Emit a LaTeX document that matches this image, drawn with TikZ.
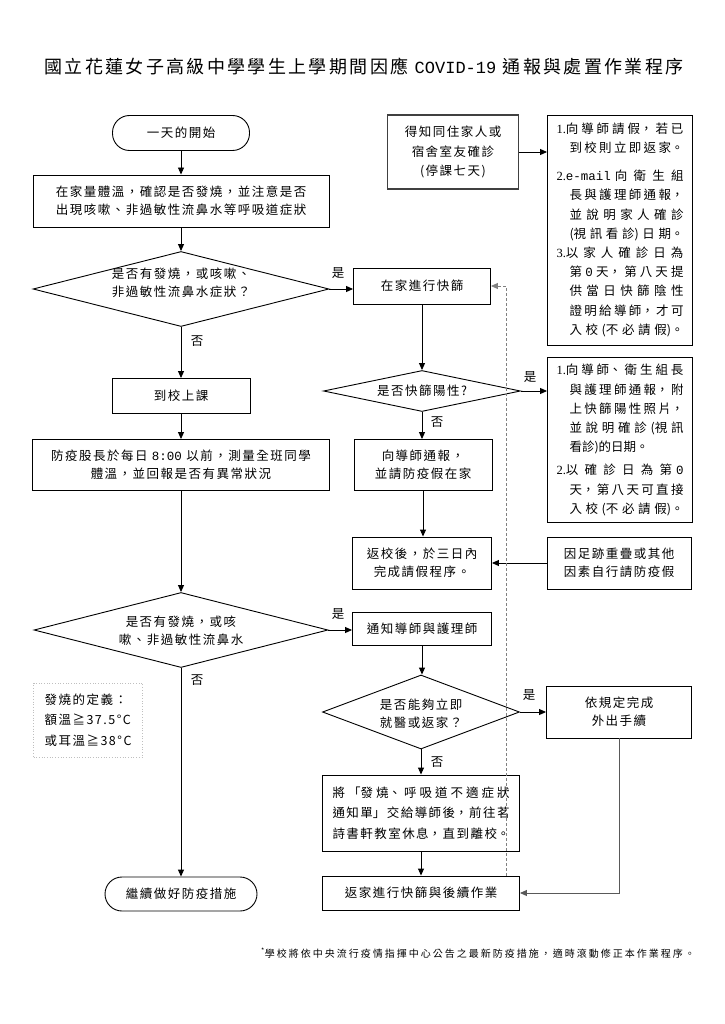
\documentclass[tikz,border=0pt]{standalone}
\usepackage{fontspec}
\usetikzlibrary{arrows.meta,shapes.geometric}
\newfontfamily\cjk{Noto Sans CJK TC}[LetterSpace=12]
\newfontfamily\cjkj{Noto Sans CJK TC}
\newfontfamily\cjkt{Noto Sans CJK TC}[LetterSpace=13]
\newfontfamily\cjkf{Noto Sans CJK TC}[LetterSpace=20]
\newfontfamily\monof{Liberation Mono}
\newfontfamily\serf{Liberation Serif}
\newcommand\jsetup{\XeTeXlinebreaklocale "zh"\XeTeXlinebreakskip=0pt plus 8pt\relax\tolerance=10000\relax\parfillskip=0pt\relax\hbadness=10000\relax}
\newcommand\itm[1]{\hangindent=13pt\hangafter=1\relax{\serf #1}}
\begin{document}
\begin{tikzpicture}[x=1pt,y=-1pt,
 every node/.style={font=\cjk\fontsize{12.5}{18}\selectfont},
 bx/.style={draw,line width=0.9pt,inner sep=0pt,align=center},
 tm/.style={bx,rounded corners=17pt},
 dia/.style={draw,diamond,line width=0.9pt,inner sep=0pt},
 arr/.style={line width=0.9pt,-{Triangle[length=7pt,width=6pt]}},
 lab/.style={inner sep=0pt},
 jbox/.style={draw,line width=0.9pt,align=justify,inner xsep=9pt,inner ysep=0pt,text width=127pt,font=\cjkj\fontsize{12.5}{19.2}\selectfont,execute at begin node=\jsetup}]
\useasboundingbox[fill=white] (0,0) rectangle (724,1024);

\node[lab] (title) at (364,67) {\cjkt\fontsize{18}{22}\selectfont 國立花蓮女子高級中學學生上學期間因應 {\monof\fontsize{17}{22}\selectfont COVID-19} 通報與處置作業程序};

\node[tm,minimum width=137pt,minimum height=35pt] (start) at (181,133) {一天的開始};
\node[bx,minimum width=296pt,minimum height=52pt] (b1) at (181,201) {在家量體溫，確認是否發燒，並注意是否\\出現咳嗽、非過敏性流鼻水等呼吸道症狀};
\node[dia,minimum width=296pt,minimum height=75pt] (d1) at (181,289) {};
\node[lab,align=center] (d1t) at (181,283) {是否有發燒，或咳嗽、\\非過敏性流鼻水症狀？};
\node[bx,minimum width=137pt,minimum height=36pt] (rapid) at (422,286) {在家進行快篩};
\node[bx,minimum width=138pt,minimum height=35pt] (school) at (181,396) {到校上課};
\node[bx,minimum width=297pt,minimum height=51pt] (monitor) at (181,465) {防疫股長於每日 {\monof 8:00} 以前，測量全班同學\\體溫，並回報是否有異常狀況};
\node[dia,minimum width=197pt,minimum height=41pt] (dpos) at (422,391) {};
\node[lab] (dpost) at (422,391) {是否快篩陽性?};
\node[bx,minimum width=138pt,minimum height=51pt] (notify) at (423,465) {向導師通報，\\並請防疫假在家};
\node[bx,draw=black!75,line width=1.3pt,minimum width=131pt,minimum height=74pt,font=\cjk\fontsize{12.5}{19.5}\selectfont] (know) at (453,152) {得知同住家人或\\宿舍室友確診\\(停課七天)};

\node[jbox,minimum height=230pt] (fam) at (620,230) {\itm{1.}向導師請假，若已\linebreak 到校則立即返家。\par\vskip 8.5pt
\itm{2.}{\monof e-mail} 向衛生組\linebreak 長與護理師通報，\linebreak 並說明家人確診\linebreak (視訊看診)日期。\par
\itm{3.}以家人確診日為\linebreak 第 {\monof 0} 天，第八天提\linebreak 供當日快篩陰性\linebreak 證明給導師，才可\linebreak 入校(不必請假)。\par};

\node[jbox,minimum height=165pt] (pos) at (620,440) {\itm{1.}向導師、衛生組長\linebreak 與護理師通報，附\linebreak 上快篩陽性照片，\linebreak 並說明確診(視訊\linebreak 看診)的日期。\hfill\mbox{}\par\vskip 4pt
\itm{2.}以確診日為第 {\monof 0}\linebreak 天，第八天可直接\linebreak 入校(不必請假)。\par};

\node[bx,minimum width=139pt,minimum height=52pt] (back) at (422,563) {返校後，於三日內\\完成請假程序。};
\node[bx,minimum width=144pt,minimum height=52pt] (self) at (619,563) {因足跡重疊或其他\\因素自行請防疫假};

\node[dia,minimum width=294pt,minimum height=75pt] (d2) at (181,630) {};
\node[lab,align=center] (d2t) at (181,631) {是否有發燒，或咳\\嗽、非過敏性流鼻水};
\node[bx,minimum width=139pt,minimum height=33pt] (tell) at (422,629) {通知導師與護理師};
\node[dia,minimum width=197pt,minimum height=74pt] (d3) at (421,712) {};
\node[lab,align=center] (d3t) at (421,714) {是否能夠立即\\就醫或返家？};
\node[bx,minimum width=145pt,minimum height=52pt] (rule) at (619,712) {依規定完成\\外出手續};
\node[jbox,text width=177pt,inner xsep=10pt,minimum height=76pt,font=\cjkj\fontsize{12.5}{20.5}\selectfont] (sheet) at (421,813) {將「發燒、呼吸道不適症狀\linebreak 通知單」交給導師後，前往茗\linebreak 詩書軒教室休息，直到離校。\par};
\node[bx,minimum width=197pt,minimum height=34pt] (ret) at (421,893) {返家進行快篩與後續作業};
\node[tm,minimum width=152pt,minimum height=34pt] (cont) at (181,894) {繼續做好防疫措施};
\node[draw=gray!50,dotted,line width=0.7pt,inner sep=0pt,minimum width=109pt,minimum height=74pt,align=left,font=\cjk\fontsize{12.5}{20.5}\selectfont] (defn) at (88,720) {發燒的定義：\\額溫≧37.5°C\\或耳溫≧38°C};

\node[lab] (y1) at (338,273) {是};
\node[lab] (n1) at (197,341) {否};
\node[lab] (y2) at (530,377) {是};
\node[lab] (n2) at (437,422) {否};
\node[lab] (y3) at (338,614) {是};
\node[lab] (n3) at (197,680) {否};
\node[lab] (y4) at (529,695) {是};
\node[lab] (n4) at (437,762) {否};

\draw[arr] (start.south) -- (b1.north);
\draw[arr] (b1.south) -- (d1.north);
\draw[arr] (d1.east) -- (d1.east -| rapid.west);
\draw[arr] (d1.south) -- (school.north);
\draw[arr] (school.south) -- (monitor.north);
\draw[arr] (monitor.south) -- (d2.north);
\draw[arr] (d2.south) -- (cont.north);
\draw[arr] (rapid.south) -- (dpos.north);
\draw[arr] (dpos.east) -- (dpos.east -| pos.west);
\draw[arr] (dpos.south) -- (dpos.south |- notify.north);
\draw[arr] (notify.south) -- (notify.south |- back.north);
\draw[arr] (self.west) -- (back.east);
\draw[arr] (know.east) -- (know.east -| fam.west);
\draw[arr] (d2.east) -- (d2.east -| tell.west);
\draw[arr] (tell.south) -- (tell.south |- d3.north);
\draw[arr] (d3.east) -- (rule.west);
\draw[arr] (d3.south) -- (sheet.north);
\draw[arr] (sheet.south) -- (ret.north);
\draw[arr,draw=gray!70!black] (rule.south) |- (ret.east);
\coordinate (dtop) at (506,286);
\draw[arr,draw=gray,dash pattern=on 3pt off 2pt,line width=0.8pt] (ret.north -| dtop) -- (dtop) -- (rapid.east);

\node[lab] (foot) at (478,953) {\cjkf\fontsize{10}{12}\selectfont\textsuperscript{*}學校將依中央流行疫情指揮中心公告之最新防疫措施，適時滾動修正本作業程序。};
\end{tikzpicture}
\end{document}
